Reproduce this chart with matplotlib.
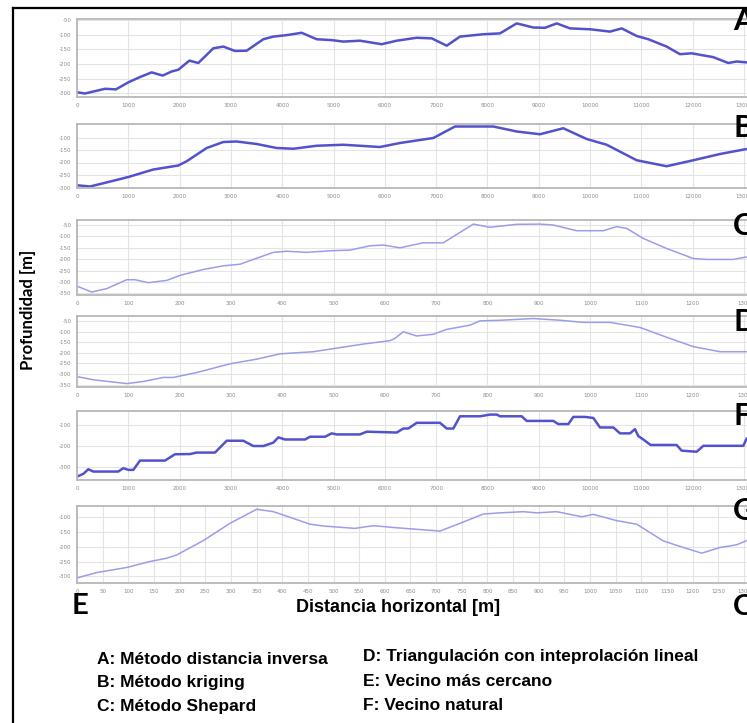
import matplotlib
matplotlib.use("Agg")
import matplotlib.pyplot as plt
from matplotlib.lines import Line2D

# ---------------- data ----------------
dist_A = [0, 156, 546, 760, 1000, 1228, 1456, 1670, 1845, 1975, 2190, 2365, 2657, 2852, 3080,
          3308, 3632, 3827, 4087, 4380, 4672, 4965, 5191, 5516, 5939, 6232, 6622, 6914, 7207,
          7466, 7920, 8246, 8571, 8896, 9123, 9351, 9610, 10000, 10390, 10618, 10910, 11137,
          11494, 11754, 11981, 12402, 12695, 12859, 13054]
prof_A = [-296, -300, -284, -286, -262, -244, -228, -239, -225, -219, -188, -196, -146, -140, -155,
          -154, -115, -106, -101, -93, -115, -118, -123, -120, -132, -120, -110, -112, -137,
          -106, -98, -95, -61, -75, -76, -61, -78, -81, -89, -78, -104, -115,
          -140, -166, -163, -176, -196, -191, -194]

dist_B = [0, 253, 513, 1000, 1488, 1975, 2138, 2528, 2852, 3112, 3502, 3892, 4216, 4672, 5191,
          5906, 6296, 6946, 7368, 8115, 8571, 9025, 9480, 9935, 10325, 10910, 11494, 12014,
          12534, 13054]
prof_B = [-291, -296, -283, -258, -228, -212, -195, -142, -118, -116, -126, -142, -145, -133, -129,
          -138, -122, -102, -56, -56, -76, -87, -63, -106, -129, -191, -215, -191,
          -166, -146]

dist_C = [0, 286, 579, 969, 1130, 1390, 1748, 2008, 2462, 2852, 3177, 3437, 3827, 4087, 4477,
          4932, 5322, 5712, 5972, 6296, 6751, 7141, 7433, 7725, 8051, 8571, 9025, 9285, 9740,
          10260, 10520, 10715, 11039, 11494, 12014, 12274, 12794, 13054]
prof_C = [-318, -344, -329, -290, -290, -303, -293, -271, -245, -229, -222, -201, -170, -165, -170,
          -163, -160, -141, -138, -150, -128, -128, -87, -46, -60, -47, -46, -50, -75,
          -75, -57, -65, -109, -153, -197, -201, -201, -190]

dist_D = [0, 318, 969, 1293, 1683, 1878, 2333, 2982, 3502, 3957, 4606, 5256, 5581, 6101, 6199,
          6361, 6621, 6946, 7206, 7661, 7856, 8246, 8896, 9415, 9870, 10390, 10975, 11494,
          12014, 12534, 13054]
prof_D = [-312, -327, -345, -335, -316, -316, -293, -252, -230, -205, -195, -171, -159, -143, -132,
          -101, -121, -113, -90, -70, -50, -47, -39, -47, -57, -57, -81, -127,
          -171, -195, -195]

dist_F = [0, 123, 221, 318, 805, 903, 1000, 1098, 1228, 1715, 1910, 2203, 2333, 2690, 2917, 3242,
          3437, 3632, 3827, 3925, 4055, 4445, 4542, 4834, 4964, 5062, 5516, 5646, 6231, 6361,
          6459, 6621, 7076, 7206, 7336, 7466, 7856, 8051, 8181, 8246, 8668, 8766, 9285, 9383,
          9578, 9675, 9903, 10065, 10195, 10455, 10585, 10780, 10877, 10942, 11039, 11182,
          11689, 11787, 12079, 12209, 12989, 13054]
prof_F = [-344, -331, -309, -320, -320, -304, -312, -312, -268, -268, -238, -237, -230, -230, -174,
          -174, -199, -199, -183, -158, -168, -168, -155, -155, -139, -144, -144, -131, -135,
          -116, -116, -89, -89, -116, -116, -58, -58, -50, -50, -58, -58, -80, -80, -95,
          -95, -61, -61, -66, -111, -111, -139, -139, -119, -152, -168, -194,
          -194, -221, -226, -198, -198, -163]

dist_G = [0, 384, 969, 1423, 1748, 1943, 2462, 2982, 3502, 3827, 4087, 4542, 4801, 5419, 5776,
          6231, 6621, 7076, 7466, 7920, 8246, 8700, 8960, 9350, 9838, 10065, 10520, 10910,
          11429, 11819, 12177, 12534, 12859, 13054]
prof_G = [-305, -287, -270, -250, -239, -228, -180, -122, -75, -83, -98, -125, -131, -139, -130,
          -137, -142, -148, -122, -91, -87, -83, -87, -83, -100, -92, -113, -125,
          -181, -203, -222, -203, -194, -180]

panel_letters = ["A", "B", "C", "D", "F", "G"]
legend_col1 = ["A: Método distancia inversa", "B: Método kriging", "C: Método Shepard"]
legend_col2 = ["D: Triangulación con inteprolación lineal", "E: Vecino más cercano", "F: Vecino natural"]

xt_thousands = list(range(0, 14000, 1000))
xl_thousands = [str(v) for v in xt_thousands]
xl_hundreds = [str(v // 10) for v in xt_thousands]
xt_half = list(range(0, 13500, 500))
xl_half = [str(v // 10) for v in xt_half]

yt_A = [-50, -100, -150, -200, -250, -300]
yt_B = [-100, -150, -200, -250, -300]
yt_CD = [-50, -100, -150, -200, -250, -300, -350]
yt_F = [-100, -200, -300]
yt_G = [-100, -150, -200, -250, -300]

# ---------------- figure ----------------
W, H = 747, 723
fig = plt.figure(figsize=(W / 100, H / 100), dpi=100)
fig.patch.set_facecolor("white")

dark = "#5252cc"
light = "#9c9cec"

# (x, y, color, lw, yticks, ylim, xticks, xlabels, panel top px, bottom px, letter centre px)
panels = [
    (dist_A, prof_A, dark, 1.8, yt_A, (-312, -46), xt_thousands, xl_thousands, 19, 97, 21),
    (dist_B, prof_B, dark, 1.8, yt_B, (-302, -46), xt_thousands, xl_thousands, 124, 188, 128),
    (dist_C, prof_C, light, 1.1, yt_CD, (-357, -28), xt_thousands, xl_hundreds, 220, 295, 226),
    (dist_D, prof_D, light, 1.1, yt_CD, (-361, -27), xt_thousands, xl_hundreds, 316, 387, 322),
    (dist_F, prof_F, dark, 1.8, yt_F, (-360, -33), xt_thousands, xl_thousands, 411, 480, 416),
    (dist_G, prof_G, light, 1.1, yt_G, (-322, -64), xt_half, xl_half, 506, 583, 511),
]

left_px, right_px = 77, 762
x_right = (right_px - left_px) / 51.3 * 1000

for (xs, ys, col, lw, yt, yl, xt, xl, top, bot, ly), letter in zip(panels, panel_letters):
    ax = fig.add_axes([left_px / W, 1 - bot / H, (right_px - left_px) / W, (bot - top) / H])
    ax.plot(xs, ys, color=col, lw=lw, solid_joinstyle="round", solid_capstyle="round")
    ax.set_xlim(0, x_right)
    ax.set_ylim(*yl)
    ax.set_yticks(yt)
    ax.set_yticklabels([str(v) for v in yt])
    ax.set_xticks(xt)
    ax.set_xticklabels(xl)
    ax.grid(True, color="#e4e4e4", lw=0.8)
    ax.set_axisbelow(True)
    for s in ax.spines.values():
        s.set_color("#b8b8b8")
        s.set_linewidth(1.3)
    ax.tick_params(length=0, labelsize=4, labelcolor="#8a8a8a", pad=4)
    fig.text(733 / W, 1 - ly / H, letter,
             fontsize=22, fontweight="bold", family=["Lato", "DejaVu Sans"],
             ha="left", va="center", color="black")

# frame
fig.add_artist(Line2D([13 / W, 13 / W], [0, 1 - 8 / H], color="black", lw=1.6))
fig.add_artist(Line2D([13 / W, 1], [1 - 8 / H, 1 - 8 / H], color="black", lw=1.6))

narrow = ["Liberation Sans Narrow", "Liberation Sans", "DejaVu Sans"]

fig.text(28 / W, 1 - 310 / H, "Profundidad [m]", rotation=90, fontsize=12, fontweight="bold",
         family=["Lato", "DejaVu Sans"], ha="center", va="center")
fig.text(398 / W, 1 - 607 / H, "Distancia horizontal [m]", fontsize=13, fontweight="bold",
         family=narrow, ha="center", va="center")
fig.text(72 / W, 1 - 606 / H, "E", fontsize=21, fontweight="bold", family=["Lato", "DejaVu Sans"],
         ha="left", va="center")
fig.text(733 / W, 1 - 607 / H, "C", fontsize=21, fontweight="bold", family=["Lato", "DejaVu Sans"],
         ha="left", va="center")

for i, t in enumerate(legend_col1):
    fig.text(97 / W, 1 - (659 + 24 * i) / H, t, fontsize=12.5, fontweight="bold",
             family=narrow, ha="left", va="center")
for i, t in enumerate(legend_col2):
    fig.text(363 / W, 1 - (657 + 24.5 * i) / H, t, fontsize=12.5, fontweight="bold",
             family=narrow, ha="left", va="center")

fig.savefig("out.png", dpi=100, facecolor="white")
